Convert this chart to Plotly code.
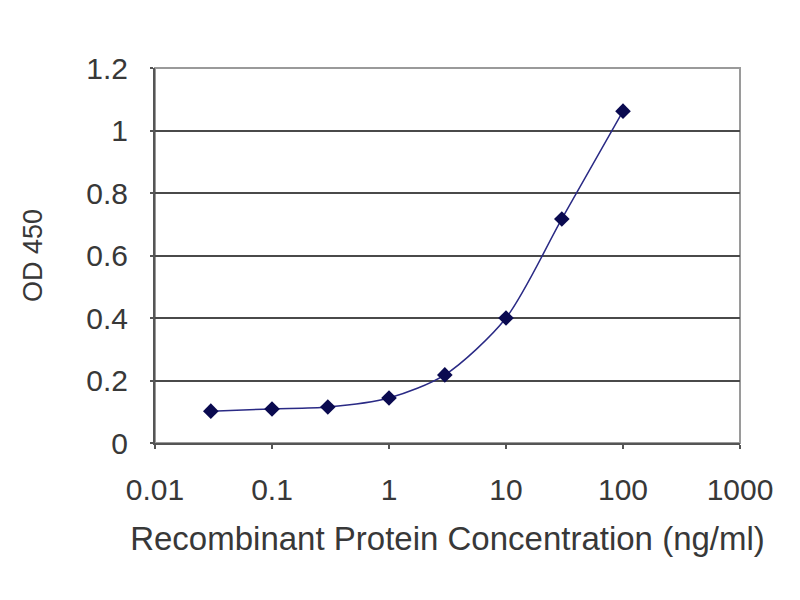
import plotly.graph_objects as go

# 浓度 (ng/ml) 与 OD450 读数
conc = [0.03, 0.1, 0.3, 1, 3, 10, 30, 100]
od450 = [0.102, 0.109, 0.115, 0.144, 0.218, 0.40, 0.717, 1.062]

x_ticks = [0.01, 0.1, 1, 10, 100, 1000]
x_ticktext = ["0.01", "0.1", "1", "10", "100", "1000"]
y_ticks = [0, 0.2, 0.4, 0.6, 0.8, 1, 1.2]
y_ticktext = ["0", "0.2", "0.4", "0.6", "0.8", "1", "1.2"]

fig = go.Figure()
fig.add_trace(
    go.Scatter(
        x=conc, y=od450,
        mode="lines+markers",
        line=dict(color="#2a2a85", width=1.5, shape="spline", smoothing=0.8),
        marker=dict(symbol="diamond", size=12, color="#0a0a50"),
        showlegend=False,
    )
)

font_main = "Liberation Sans, Arial, sans-serif"
fig.update_xaxes(
    type="log", range=[-2, 3],
    tickvals=x_ticks, ticktext=x_ticktext,
    ticks="outside", ticklen=4, tickcolor="#555", tickwidth=2,
    ticklabelstandoff=15,
    showgrid=False, zeroline=False,
    showline=True, linecolor="#555", linewidth=2,
    tickfont=dict(size=30, color="#383838", family=font_main),
    title=dict(text="Recombinant Protein Concentration (ng/ml)",
               font=dict(size=33, color="#383838", family=font_main), standoff=22),
)
fig.update_yaxes(
    range=[0, 1.2],
    tickvals=y_ticks, ticktext=y_ticktext,
    ticks="outside", ticklen=3, tickcolor="#555", tickwidth=2,
    ticklabelstandoff=16,
    showgrid=True, gridcolor="#4a4a4a", gridwidth=2, zeroline=False,
    showline=True, linecolor="#555", linewidth=2,
    tickfont=dict(size=30, color="#383838", family=font_main),
    title=dict(text="OD 450", font=dict(size=27, color="#383838", family=font_main),
               standoff=36),
)
# 右侧与顶部的浅灰边框
fig.add_shape(
    type="rect", xref="x domain", yref="y domain",
    x0=0, x1=1, y0=0, y1=1,
    line=dict(color="#9a9a9a", width=2), layer="below",
)
fig.update_layout(
    width=800, height=600,
    margin=dict(l=147, r=68, t=60, b=165),
    paper_bgcolor="white", plot_bgcolor="white",
)
fig.write_html("out.html")
